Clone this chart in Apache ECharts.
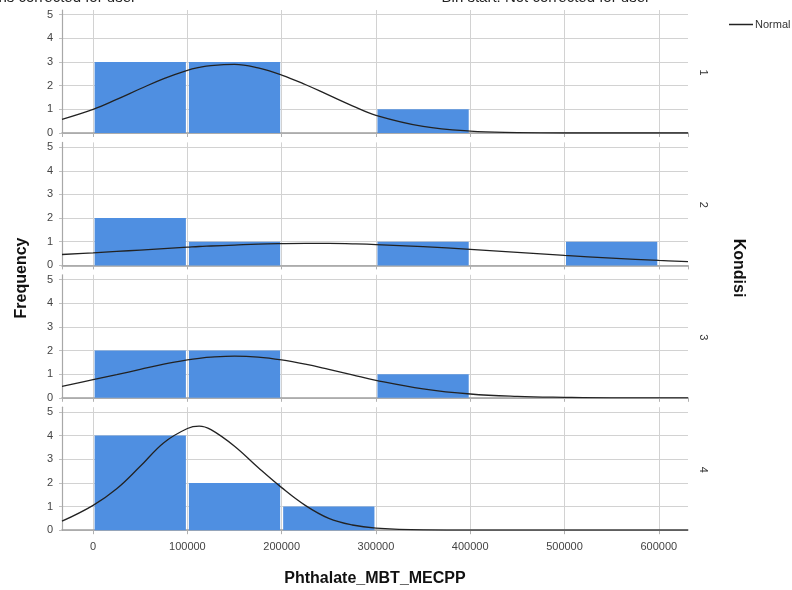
<!DOCTYPE html>
<html>
<head>
<meta charset="utf-8">
<script src="https://cdn.jsdelivr.net/npm/echarts@6/dist/echarts.min.js"></script>
<style>
  html, body { margin: 0; padding: 0; background: #fff; }
  #chart { width: 792px; height: 590px; }
</style>
</head>
<body>
<div id="chart"></div>
<script>
// histogram bins (Phthalate_MBT_MECPP)
const binStarts = [0, 100000, 200000, 300000, 400000, 500000]
const binEnds = [100000, 200000, 300000, 400000, 500000, 600000]

// frequency per bin, one array per Kondisi
const kondisi1Counts = [3, 3, 0, 1, 0, 0]
const kondisi2Counts = [2, 1, 0, 1, 0, 1]
const kondisi3Counts = [2, 2, 0, 1, 0, 0]
const kondisi4Counts = [4, 2, 1, 0, 0, 0]

// normal curve
const curveX = [-33000, 0, 25000, 50000, 75000, 100000, 112500, 125000, 150000, 175000, 200000, 225000,
  250000, 275000, 300000, 350000, 400000, 450000, 500000, 550000, 600000, 631000]
const kondisi1Normal = [0.58, 1.0, 1.42, 1.87, 2.3, 2.65, 2.77, 2.85, 2.9, 2.75, 2.45, 2.05,
  1.6, 1.15, 0.75, 0.28, 0.08, 0.02, 0, 0, 0, 0]
const kondisi2Normal = [0.46, 0.53, 0.59, 0.65, 0.71, 0.77, 0.8, 0.82, 0.86, 0.9, 0.92, 0.93,
  0.93, 0.91, 0.88, 0.79, 0.68, 0.55, 0.42, 0.31, 0.21, 0.16]
const kondisi3Normal = [0.48, 0.77, 0.98, 1.2, 1.42, 1.6, 1.67, 1.72, 1.76, 1.72, 1.6, 1.42,
  1.2, 0.97, 0.74, 0.38, 0.16, 0.06, 0.02, 0, 0, 0]
const kondisi4Normal = [0.38, 1.05, 1.75, 2.7, 3.7, 4.3, 4.4, 4.25, 3.55, 2.65, 1.8, 1.05,
  0.5, 0.22, 0.09, 0.01, 0, 0, 0, 0, 0, 0]

const kondisiLabels = ['1', '2', '3', '4']
const yTicks = [0, 1, 2, 3, 4, 5]
const xTicks = [0, 100000, 200000, 300000, 400000, 500000, 600000]

const counts = [kondisi1Counts, kondisi2Counts, kondisi3Counts, kondisi4Counts]
const normals = [kondisi1Normal, kondisi2Normal, kondisi3Normal, kondisi4Normal]

const chart = echarts.init(document.getElementById('chart'))

const FONT = 'Liberation Sans'
const panelTop = 10
const panelStep = 132.4
const panelHeight = 123

const grids = []
const xAxes = []
const yAxes = []
const series = []
const graphics = []

counts.forEach((c, i) => {
  const isLast = i === counts.length - 1
  grids.push({
    left: 62,
    right: 104,
    top: panelTop + panelStep * i,
    height: panelHeight,
  })
  xAxes.push({
    type: 'value',
    gridIndex: i,
    min: -33000,
    max: 631000,
    splitNumber: 6,
    axisLine: { show: true, onZero: false, lineStyle: { color: '#a0a0a0', width: 1.5 } },
    axisTick: { show: true, length: 4, lineStyle: { color: '#b0b0b0' } },
    axisLabel: {
      show: isLast,
      margin: 11,
      color: '#444',
      fontFamily: FONT,
      fontSize: 11,
      showMinLabel: false,
      showMaxLabel: false,
      formatter: (v) => (xTicks.includes(v) ? String(v) : ''),
    },
    splitLine: {
      show: true,
      showMinLine: false,
      showMaxLine: false,
      lineStyle: { color: '#d2d2d2', width: 1 },
    },
    name: isLast ? 'Phthalate_MBT_MECPP' : '',
    nameLocation: 'middle',
    nameGap: 40,
    nameTextStyle: { fontFamily: FONT, fontSize: 16, fontWeight: 'bold', color: '#111' },
  })
  yAxes.push({
    type: 'value',
    gridIndex: i,
    min: 0,
    max: 5.2,
    interval: 1,
    axisLine: { show: true, onZero: false, lineStyle: { color: '#a8a8a8', width: 1.2 } },
    axisTick: { show: true, length: 3, lineStyle: { color: '#c0c0c0' } },
    axisLabel: {
      color: '#444',
      fontFamily: FONT,
      fontSize: 11,
      margin: 9,
      showMaxLabel: false,
      formatter: (v) => (yTicks.includes(v) ? String(v) : ''),
    },
    splitLine: {
      show: true,
      showMaxLine: false,
      lineStyle: { color: '#d2d2d2', width: 1 },
    },
  })

  const bars = []
  c.forEach((n, k) => {
    if (n > 0) bars.push([binStarts[k], binEnds[k], n])
  })
  series.push({
    type: 'custom',
    xAxisIndex: i,
    yAxisIndex: i,
    encode: { x: [0, 1], y: 2 },
    data: bars,
    renderItem: (params, api) => {
      const p0 = api.coord([api.value(0), 0])
      const p1 = api.coord([api.value(1), api.value(2)])
      return {
        type: 'rect',
        shape: { x: p0[0] + 1.5, y: p1[1], width: p1[0] - p0[0] - 3, height: p0[1] - p1[1] },
        style: { fill: '#4f8fe1' },
      }
    },
    z: 2,
  })

  series.push({
    name: 'Normal',
    type: 'line',
    xAxisIndex: i,
    yAxisIndex: i,
    data: curveX.map((x, k) => [x, normals[i][k]]),
    smooth: 0.4,
    symbol: 'none',
    itemStyle: { color: '#222' },
    lineStyle: { color: '#222', width: 1.3 },
    z: 3,
  })

  graphics.push({
    type: 'text',
    x: 703,
    y: panelTop + panelStep * i + panelHeight / 2 + 1,
    rotation: -Math.PI / 2,
    style: {
      text: kondisiLabels[i],
      fill: '#333',
      font: `11px "${FONT}"`,
      align: 'center',
      verticalAlign: 'middle',
    },
  })
})

graphics.push(
  {
    type: 'text',
    x: 22,
    y: 278,
    rotation: Math.PI / 2,
    style: {
      text: 'Frequency',
      fill: '#111',
      font: `bold 16px "${FONT}"`,
      align: 'center',
      verticalAlign: 'middle',
    },
  },
  {
    type: 'text',
    x: 738,
    y: 268,
    rotation: -Math.PI / 2,
    style: {
      text: 'Kondisi',
      fill: '#111',
      font: `bold 16px "${FONT}"`,
      align: 'center',
      verticalAlign: 'middle',
    },
  },
  // header lines cut off by the top of the image
  {
    type: 'text',
    x: 136,
    y: 5,
    style: {
      text: 'Bins corrected for user',
      fill: '#222',
      font: `15px "${FONT}"`,
      align: 'right',
      verticalAlign: 'bottom',
    },
  },
  {
    type: 'text',
    x: 650,
    y: 5,
    style: {
      text: 'Bin start: Not corrected for user',
      fill: '#222',
      font: `15px "${FONT}"`,
      align: 'right',
      verticalAlign: 'bottom',
    },
  },
)

const option = {
  animation: false,
  backgroundColor: '#fff',
  legend: {
    data: ['Normal'],
    left: 729,
    top: 19,
    padding: 0,
    icon: 'rect',
    itemWidth: 24,
    itemHeight: 1.5,
    itemGap: 4,
    textStyle: { fontFamily: FONT, fontSize: 11, color: '#333', padding: [0, 0, 0, -3] },
  },
  grid: grids,
  xAxis: xAxes,
  yAxis: yAxes,
  series: series,
  graphic: graphics,
}

option && chart.setOption(option)
</script>
</body>
</html>
